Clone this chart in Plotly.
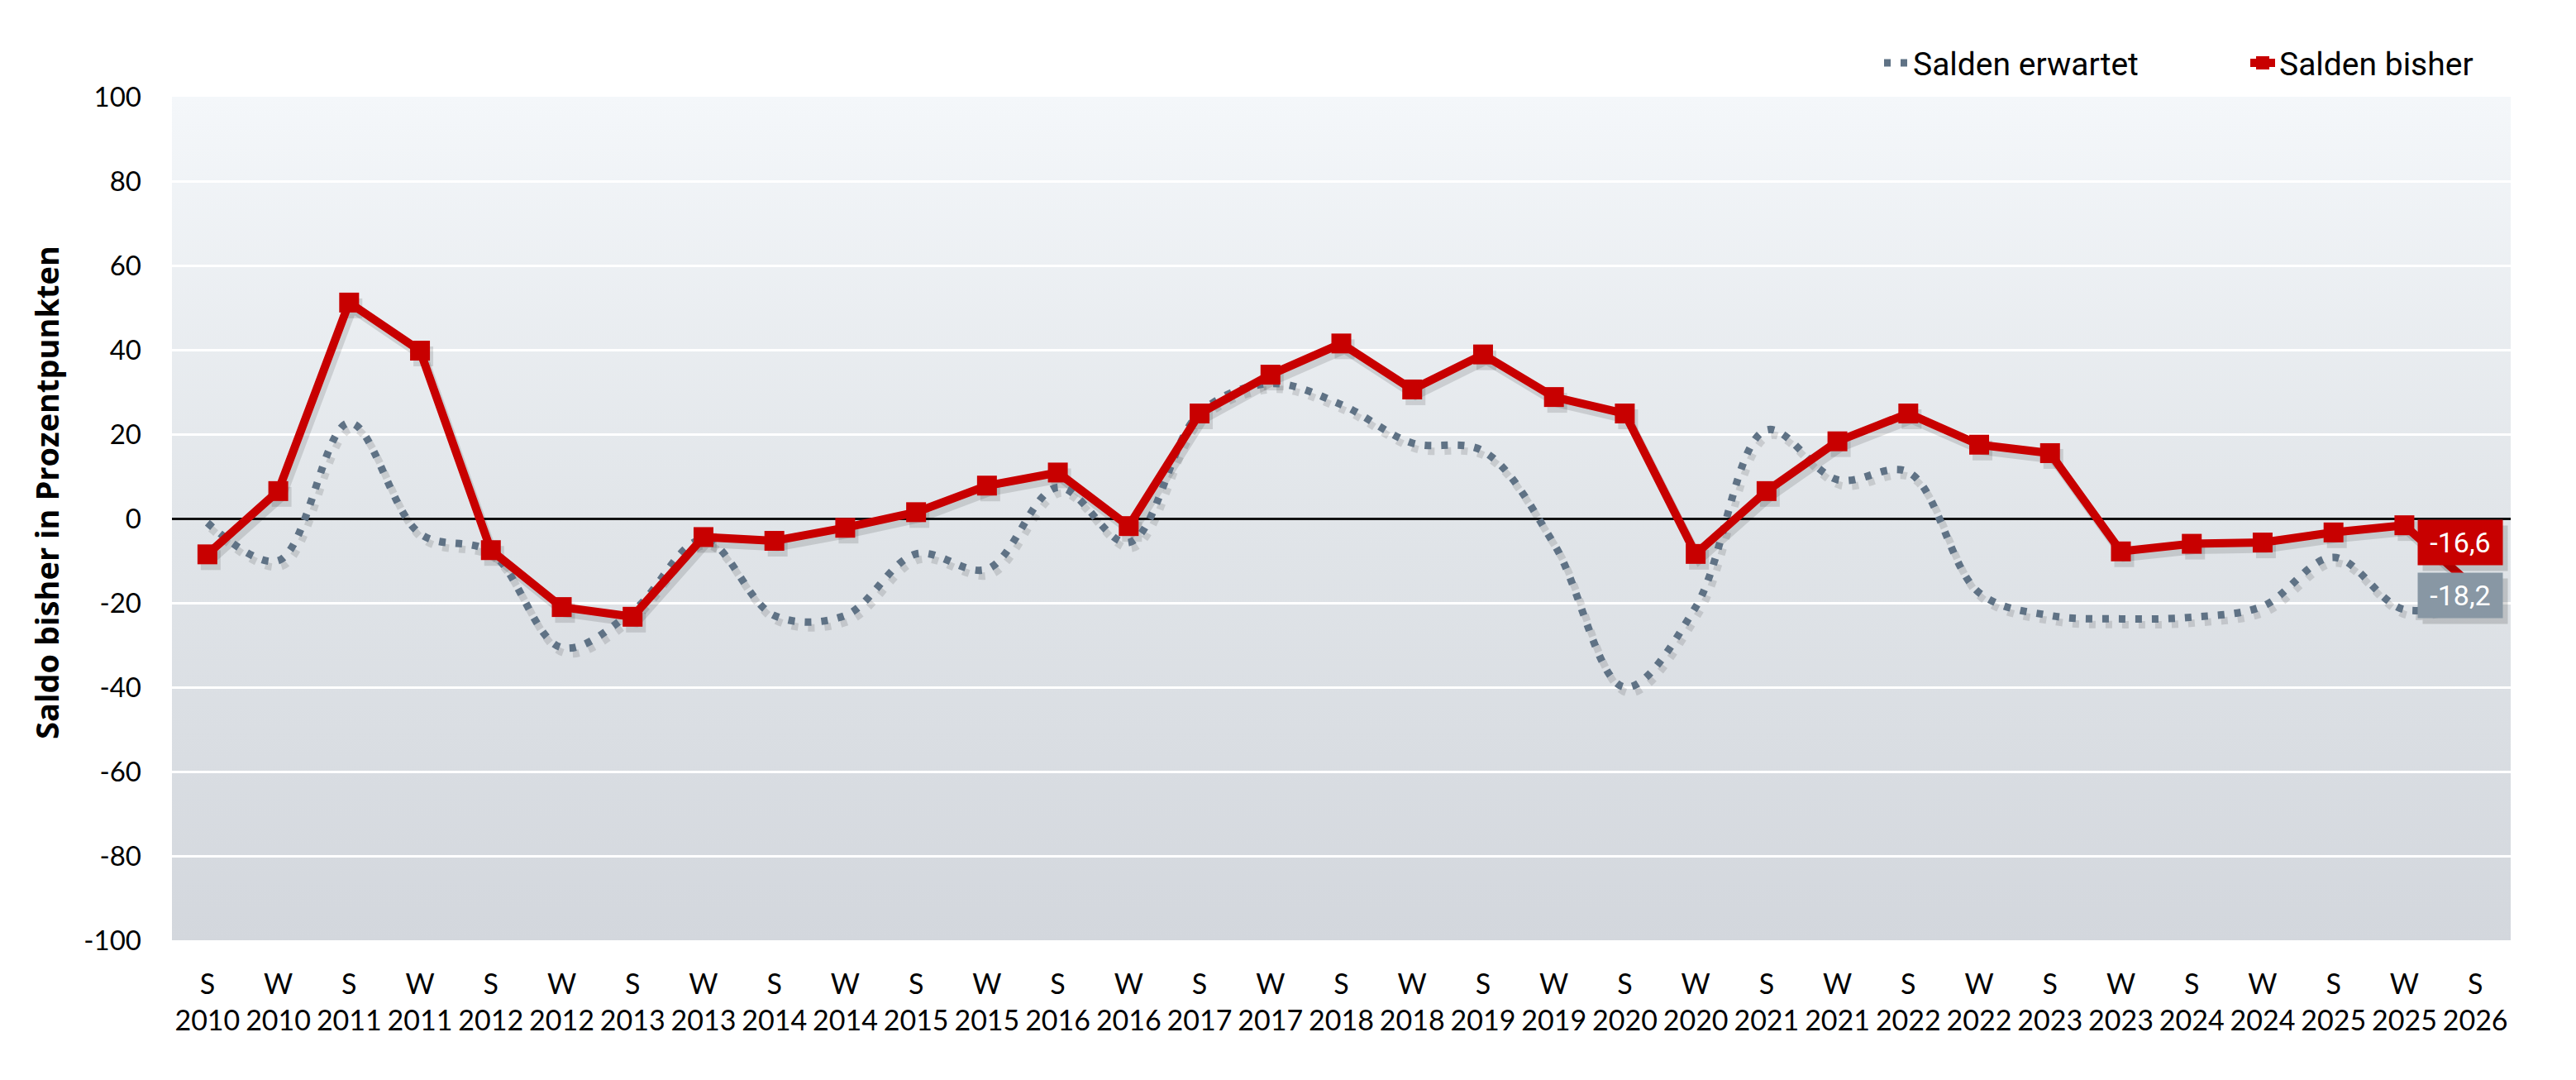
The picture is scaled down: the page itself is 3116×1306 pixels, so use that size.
import base64
import plotly.graph_objects as go

# ---------------- data ----------------
categories = [
    "S<br>2010", "W<br>2010", "S<br>2011", "W<br>2011", "S<br>2012", "W<br>2012",
    "S<br>2013", "W<br>2013", "S<br>2014", "W<br>2014", "S<br>2015", "W<br>2015",
    "S<br>2016", "W<br>2016", "S<br>2017", "W<br>2017", "S<br>2018", "W<br>2018",
    "S<br>2019", "W<br>2019", "S<br>2020", "W<br>2020", "S<br>2021", "W<br>2021",
    "S<br>2022", "W<br>2022", "S<br>2023", "W<br>2023", "S<br>2024", "W<br>2024",
    "S<br>2025", "W<br>2025", "S<br>2026",
]

salden_erwartet = [
    -1.0, -10.0, 22.7, -3.6, -8.0, -30.6, -22.0, -5.0, -23.0, -23.0, -8.4, -12.0,
    7.4, -5.7, 25.0, 32.0, 27.0, 17.9, 16.0, -6.0, -40.0, -21.0, 21.0, 9.2,
    11.0, -17.6, -23.0, -23.8, -23.4, -20.8, -9.2, -21.6, -18.2,
]

salden_bisher = [
    -8.5, 6.5, 51.2, 39.8, -7.5, -21.0, -23.3, -4.4, -5.3, -2.2, 1.5, 7.8,
    10.9, -1.8, 24.9, 34.1, 41.5, 30.6, 38.9, 28.8, 24.9, -8.4, 6.5, 18.3,
    24.9, 17.5, 15.5, -7.8, -6.0, -5.7, -3.3, -1.6, -16.6,
]

y_tickvals = [-100, -80, -60, -40, -20, 0, 20, 40, 60, 80, 100]
y_ticktext = ["-100", "-80", "-60", "-40", "-20", "0", "20", "40", "60", "80", "100"]

series_names = ["Salden erwartet", "Salden bisher"]
y_title = "Saldo bisher in Prozentpunkten"

# ---------------- styles ----------------
W, H = 3116, 1306
M_L, M_R, M_T, M_B = 208, 79, 117, 169
plot_w = W - M_L - M_R
plot_h = H - M_T - M_B

RED = "#c80000"
SLATE = "#5f7285"
GRAYBOX = "#8897a4"
SHADOW = "rgba(0,0,0,0.12)"
DOT = "8px,12px"

n = len(categories)
xr = [-0.5, n - 0.5]
yr = [-100, 100]

# shadow offsets (pixels -> data units)
sx_px, sy_px = 4, 7
dx = sx_px / (plot_w / n)
dy = sy_px / (plot_h / (yr[1] - yr[0]))

# gradient background image
svg = (
    "<svg xmlns='http://www.w3.org/2000/svg' width='100' height='100' "
    "viewBox='0 0 100 100' preserveAspectRatio='none'>"
    "<defs><linearGradient id='g' x1='0' y1='0' x2='0' y2='1'>"
    "<stop offset='0' stop-color='#f4f7fa'/>"
    "<stop offset='0.5' stop-color='#e1e5e9'/>"
    "<stop offset='1' stop-color='#d3d7dd'/>"
    "</linearGradient></defs>"
    "<rect width='100' height='100' fill='url(#g)'/></svg>"
)
bg_uri = "data:image/svg+xml;base64," + base64.b64encode(svg.encode()).decode()

fig = go.Figure()

# invisible trace so that the base (gridded) axes are drawn
fig.add_trace(go.Scatter(
    x=categories, y=salden_bisher, xaxis="x", yaxis="y",
    mode="markers", marker=dict(opacity=0, size=1),
    showlegend=False, hoverinfo="skip",
))

# shadows (on shifted overlay axes)
fig.add_trace(go.Scatter(
    x=categories, y=salden_erwartet, xaxis="x2", yaxis="y2",
    mode="lines", line=dict(color=SHADOW, width=9, dash=DOT, shape="spline", smoothing=1),
    showlegend=False, hoverinfo="skip",
))
fig.add_trace(go.Scatter(
    x=categories, y=salden_bisher, xaxis="x2", yaxis="y2",
    mode="lines+markers", line=dict(color=SHADOW, width=11),
    marker=dict(symbol="square", size=24, color=SHADOW, line=dict(width=0)),
    showlegend=False, hoverinfo="skip",
))

# main series
fig.add_trace(go.Scatter(
    x=categories, y=salden_erwartet, xaxis="x3", yaxis="y3", name=series_names[0],
    mode="lines", line=dict(color=SLATE, width=9, dash=DOT, shape="spline", smoothing=1),
))
fig.add_trace(go.Scatter(
    x=categories, y=salden_bisher, xaxis="x3", yaxis="y3", name=series_names[1],
    mode="lines+markers", line=dict(color=RED, width=10),
    marker=dict(symbol="square", size=24, color=RED, line=dict(width=0)),
))

def fmt(v):
    return f"{v:.1f}".replace(".", ",")

annotations = []
box_w, box_h = 100, 52
box_xshift = -18
label_specs = [
    (salden_bisher[-1], RED, 56),
    (salden_erwartet[-1], GRAYBOX, 0),
]
# soft box shadows (empty text)
for val, col, ysh in label_specs:
    annotations.append(dict(
        x=categories[-1], y=val, xref="x3", yref="y3", showarrow=False,
        text=" ", font=dict(family="Roboto", size=34, color="rgba(0,0,0,0)"),
        bgcolor="rgba(0,0,0,0.15)", width=box_w, height=box_h,
        xshift=box_xshift + 6, yshift=ysh - 7,
    ))
for val, col, ysh in label_specs:
    annotations.append(dict(
        x=categories[-1], y=val, xref="x3", yref="y3", showarrow=False,
        text=fmt(val), font=dict(family="Roboto", size=34, color="white"),
        bgcolor=col, width=box_w, height=box_h,
        xshift=box_xshift, yshift=ysh,
    ))

# y axis title (placed as rotated text left of the tick labels)
annotations.append(dict(
    text=y_title, xref="paper", yref="paper",
    x=(56 - M_L) / plot_w, y=1 - (596 - M_T) / plot_h,
    xanchor="center", yanchor="middle", textangle=-90, showarrow=False,
    font=dict(family="Open Sans", size=38, color="black", weight="bold"),
))

fig.update_layout(
    width=W, height=H,
    margin=dict(l=M_L, r=M_R, t=M_T, b=M_B, autoexpand=False),
    paper_bgcolor="white",
    plot_bgcolor="rgba(0,0,0,0)",
    images=[dict(
        source=bg_uri, xref="paper", yref="paper", x=0, y=1, sizex=1, sizey=1,
        xanchor="left", yanchor="top", sizing="stretch", layer="below",
    )],
    xaxis=dict(
        type="category", categoryorder="array", categoryarray=categories,
        range=xr, showgrid=False, zeroline=False, showline=False,
        ticks="", ticklabelstandoff=30,
        tickfont=dict(family="Lato", size=34, color="black"),
    ),
    yaxis=dict(
        range=yr, tickvals=y_tickvals, ticktext=y_ticktext,
        showgrid=True, gridcolor="white", gridwidth=3,
        zeroline=True, zerolinecolor="#111111", zerolinewidth=3,
        showline=False, ticks="", ticklabelstandoff=36,
        tickfont=dict(family="Lato", size=33, color="black"),
    ),
    xaxis2=dict(type="category", categoryorder="array", categoryarray=categories,
                range=[xr[0] - dx, xr[1] - dx], overlaying="x", anchor="y2", visible=False),
    yaxis2=dict(range=[yr[0] + dy, yr[1] + dy], overlaying="y", anchor="x2", visible=False),
    xaxis3=dict(type="category", categoryorder="array", categoryarray=categories,
                range=xr, overlaying="x", anchor="y3", visible=False),
    yaxis3=dict(range=yr, overlaying="y", anchor="x3", visible=False),
    legend=dict(
        orientation="h", x=(2274 - M_L) / plot_w, xanchor="left", y=1.04, yanchor="middle",
        font=dict(family="Roboto", size=39, color="black"),
        bgcolor="rgba(0,0,0,0)", entrywidth=398, entrywidthmode="pixels",
    ),
    annotations=annotations,
    showlegend=True,
)

fig.write_html("out.html")
